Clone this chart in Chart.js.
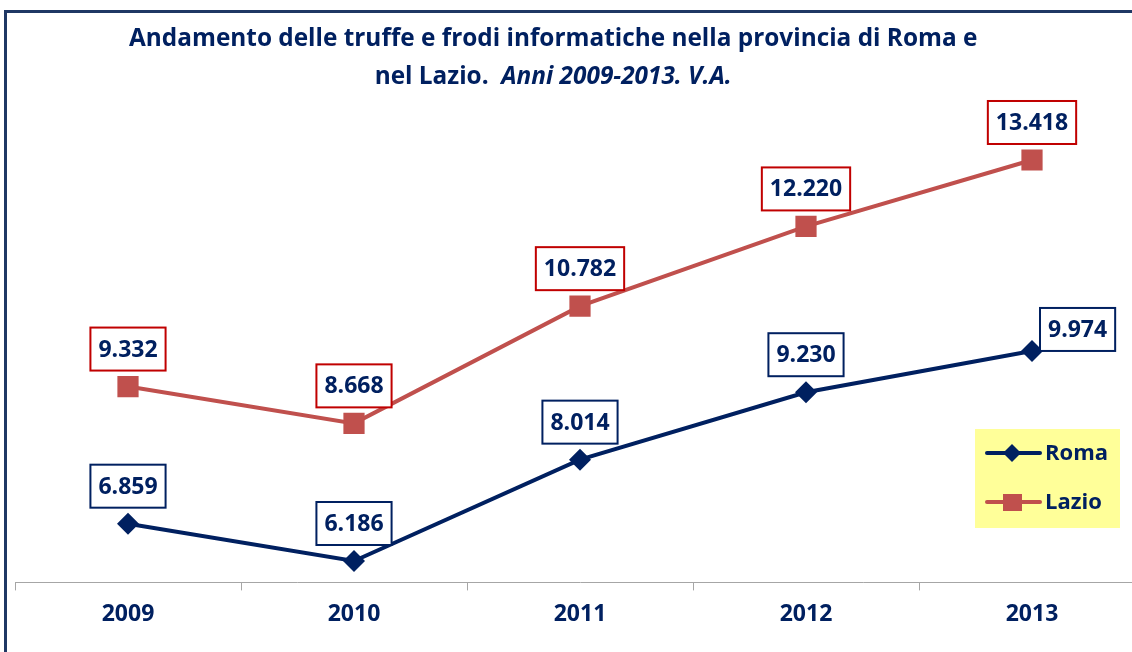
<!DOCTYPE html>
<html>
<head>
<meta charset="utf-8">
<title>Truffe e frodi informatiche - Roma e Lazio</title>
<script src="https://cdn.jsdelivr.net/npm/chart.js"></script>
<style>
  html, body { margin: 0; padding: 0; background: #fff; overflow: hidden; }
  body { width: 1132px; height: 652px; position: relative; font-family: "Open Sans", sans-serif; }
  .cornice { position: absolute; left: 4px; top: 10px; width: 1200px; height: 700px;
             border-left: 3px solid #1f3864; border-top: 3px solid #1f3864; }
  #chart { position: absolute; left: 0; top: 0; }
  #titolo { position: absolute; left: 0; top: 17px; width: 1106px; text-align: center;
            color: #002060; font-weight: bold; font-size: 25px; line-height: 38px; }
  #titolo span { display: inline-block; white-space: pre; transform-origin: center; }
</style>
</head>
<body>
  <div class="cornice"></div>
  <canvas id="chart" width="1160" height="652"></canvas>
  <div id="titolo">
    <div><span id="riga1">Andamento delle truffe e frodi informatiche nella provincia di Roma e</span></div>
    <div><span id="riga2">nel Lazio.  <i>Anni 2009-2013. V.A.</i></span></div>
  </div>

<script>
// dati
const anni = ['2009', '2010', '2011', '2012', '2013'];
const roma = [6859, 6186, 8014, 9230, 9974];
const lazio = [9332, 8668, 10782, 12220, 13418];
const nomiSerie = ['Roma', 'Lazio'];

const BLU = '#002060';
const ROSSO = '#c0504d';

// stringe il titolo alla larghezza dell'originale
const r1 = document.getElementById('riga1');
const r2 = document.getElementById('riga2');
const s = 848 / r1.offsetWidth;
r1.style.transform = 'scaleX(' + s + ')';
r2.style.transform = 'scaleX(' + s + ')';

function fmt(v) {
    return String(v).replace(/\B(?=(\d{3})+(?!\d))/g, '.');
}

// etichette a riquadro + legenda gialla
const etichette = {
    id: 'etichette',
    afterDraw(chart) {
        const ctx = chart.ctx;
        ctx.save();
        ctx.font = 'bold 23px "Open Sans"';
        ctx.textAlign = 'center';
        ctx.textBaseline = 'middle';
        chart.data.datasets.forEach((ds, i) => {
            const meta = chart.getDatasetMeta(i);
            meta.data.forEach((pt, j) => {
                const txt = fmt(ds.data[j]);
                const w = ctx.measureText(txt).width + 16, h = 43;
                let x = pt.x - w / 2, y = pt.y - 16 - h;
                if (ds.etichettaDestra && ds.etichettaDestra[j]) { x = pt.x + 8; y = pt.y - h; }
                ctx.fillStyle = '#fff';
                ctx.fillRect(x, y, w, h);
                ctx.lineWidth = 2;
                ctx.strokeStyle = ds.bordoEtichetta;
                ctx.strokeRect(x, y, w, h);
                ctx.fillStyle = BLU;
                ctx.fillText(txt, x + w / 2, y + h / 2 + 1);
            });
        });

        // legenda
        ctx.fillStyle = '#ffff99';
        ctx.fillRect(975, 429, 145, 99);
        ctx.lineWidth = 4;
        ctx.lineCap = 'round';
        ctx.strokeStyle = BLU;
        ctx.beginPath(); ctx.moveTo(987, 453); ctx.lineTo(1040, 453); ctx.stroke();
        ctx.fillStyle = BLU;
        ctx.beginPath();
        ctx.moveTo(1003, 453); ctx.lineTo(1012, 444); ctx.lineTo(1021, 453); ctx.lineTo(1012, 462);
        ctx.closePath(); ctx.fill();
        ctx.strokeStyle = ROSSO;
        ctx.beginPath(); ctx.moveTo(987, 502); ctx.lineTo(1040, 502); ctx.stroke();
        ctx.fillStyle = ROSSO;
        ctx.fillRect(1003, 494, 19, 17);
        ctx.fillStyle = BLU;
        ctx.textAlign = 'left';
        ctx.font = 'bold 22px "Open Sans"';
        ctx.fillText(nomiSerie[0], 1045, 454);
        ctx.fillText(nomiSerie[1], 1045, 503);
        ctx.restore();
    }
};

new Chart(document.getElementById('chart'), {
    type: 'line',
    data: {
        labels: anni,
        datasets: [{
            label: nomiSerie[0],
            data: roma,
            borderColor: BLU,
            backgroundColor: BLU,
            borderWidth: 4,
            pointStyle: 'rectRot',
            pointRadius: 11,
            pointBorderWidth: 0,
            bordoEtichetta: BLU,
            etichettaDestra: [false, false, false, false, true]
        }, {
            label: nomiSerie[1],
            data: lazio,
            borderColor: ROSSO,
            backgroundColor: ROSSO,
            borderWidth: 4,
            pointStyle: 'rect',
            pointRadius: 15,
            pointBorderWidth: 0,
            bordoEtichetta: '#c00000'
        }]
    },
    options: {
        responsive: false,
        animation: false,
        layout: { padding: { left: 14, right: 7, top: 100, bottom: 14 } },
        plugins: {
            legend: { display: false },
            tooltip: { enabled: false }
        },
        scales: {
            x: {
                offset: true,
                grid: { offset: true, drawOnChartArea: false, tickLength: 8, color: '#a6a6a6' },
                border: { display: true, color: '#a6a6a6', width: 1 },
                ticks: { color: BLU, padding: 10, font: { family: 'Open Sans', size: 23, weight: 'bold' } }
            },
            y: {
                display: false,
                min: 5800,
                max: 14500
            }
        }
    },
    plugins: [etichette]
});
</script>
</body>
</html>
